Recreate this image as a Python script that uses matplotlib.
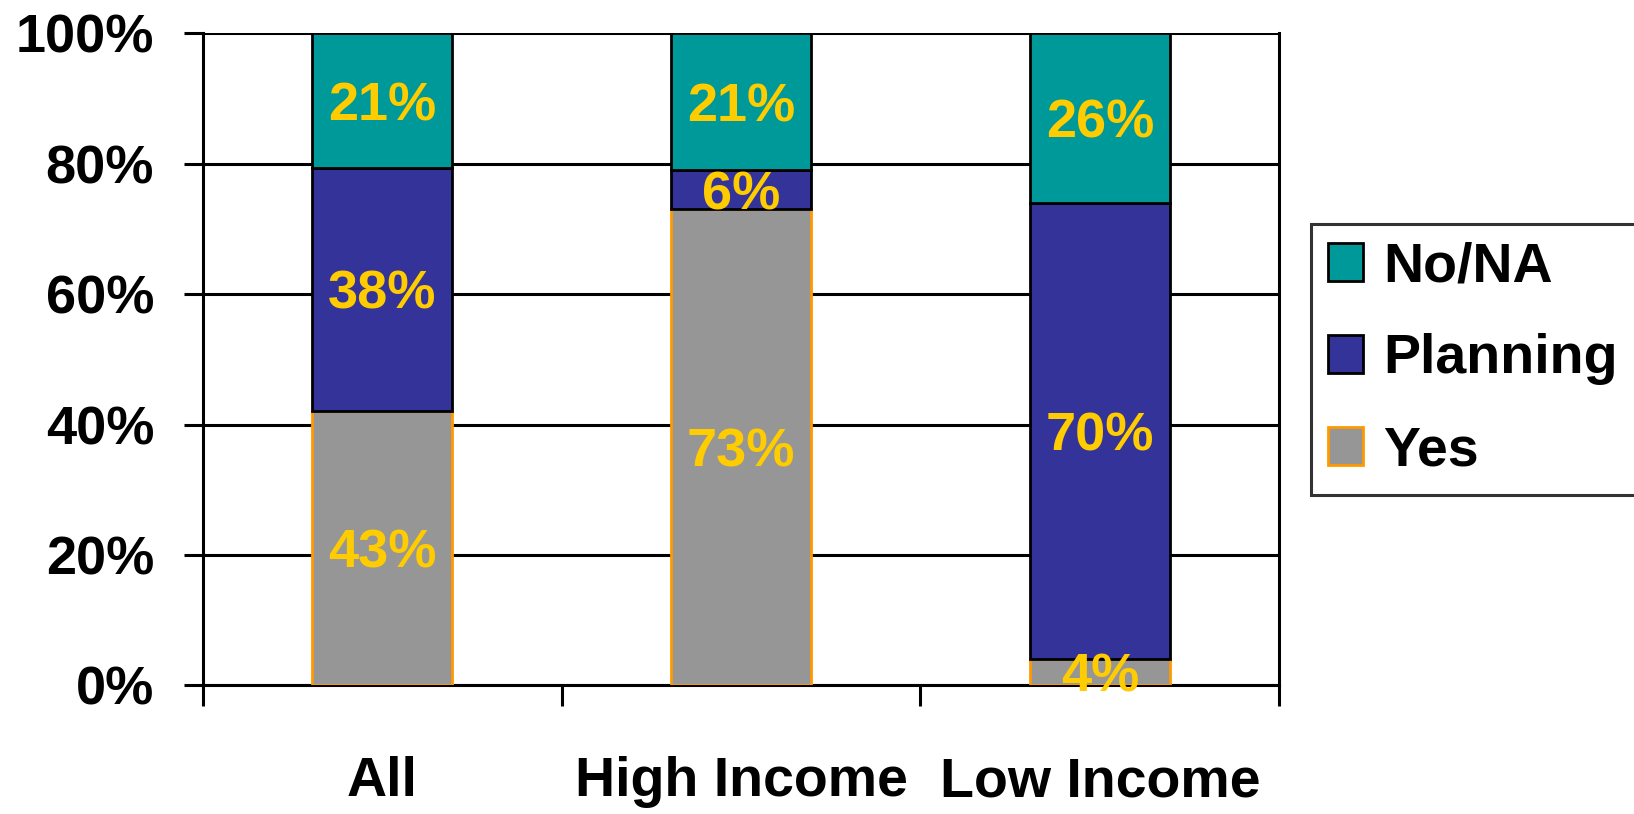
import numpy as np
import matplotlib.pyplot as plt
from matplotlib.ticker import PercentFormatter

plt.rcParams['font.family'] = ['Liberation Sans', 'DejaVu Sans']
plt.rcParams['font.weight'] = 'bold'

categories = ['All', 'High Income', 'Low Income']
yes = [43, 73, 4]
planning = [38, 6, 70]
no_na = [21, 21, 26]

series = [('Yes', yes, '#969696', '#FF9900'),
          ('Planning', planning, '#333399', 'black'),
          ('No/NA', no_na, '#009999', 'black')]

totals = np.array(yes) + np.array(planning) + np.array(no_na)

fig = plt.figure(figsize=(16.34, 8.14), dpi=100)
ax = fig.add_axes([0.124, 0.158, 0.659, 0.801])

x = np.arange(len(categories))
bottom = np.zeros(len(categories))
handles = []
for name, vals, fc, ec in series:
    share = np.array(vals) / totals * 100
    bars = ax.bar(x, share, width=0.39, bottom=bottom, color=fc,
                  edgecolor=ec, linewidth=2, zorder=3, label=name)
    handles.append(bars)
    for xi, b, s, v in zip(x, bottom, share, vals):
        ax.annotate(f'{v}%', (xi, b + s / 2), xytext=(0, -4),
                    textcoords='offset points', ha='center', va='center',
                    color='#FFCC00', fontsize=39, fontweight='bold', zorder=5)
    bottom += share

ax.set_xlim(-0.5, 2.5)
ax.set_ylim(0, 100)
ax.yaxis.set_major_formatter(PercentFormatter(decimals=0))
ax.set_yticks(np.arange(0, 101, 20))
ax.grid(axis='y', color='black', linewidth=2.2, zorder=1)

ax.set_xticks([-0.5, 0.5, 1.5, 2.5])
ax.set_xticklabels([])
ax.set_xticks(x, minor=True)
ax.set_xticklabels(categories, minor=True)
ax.tick_params(axis='x', which='major', direction='out', length=15, width=2.2)
ax.tick_params(axis='x', which='minor', length=0, pad=51, labelsize=40)
ax.tick_params(axis='y', direction='out', length=14, width=2.2, pad=21, labelsize=39)

for s in ['left', 'right', 'bottom']:
    ax.spines[s].set_linewidth(2.2)
ax.spines['top'].set_visible(False)

leg = ax.legend(handles=handles[::-1], loc='center left',
                bbox_to_anchor=(1.029, 0.5), borderaxespad=0, fontsize=40,
                frameon=True, fancybox=False, edgecolor='black',
                handlelength=0.63, handleheight=0.66, handletextpad=0.36,
                labelspacing=0.72, borderpad=0.32)
leg.get_frame().set_linewidth(2.2)
for h in leg.legend_handles:
    h.set_linewidth(2)

fig.savefig('out.png', dpi=100)
